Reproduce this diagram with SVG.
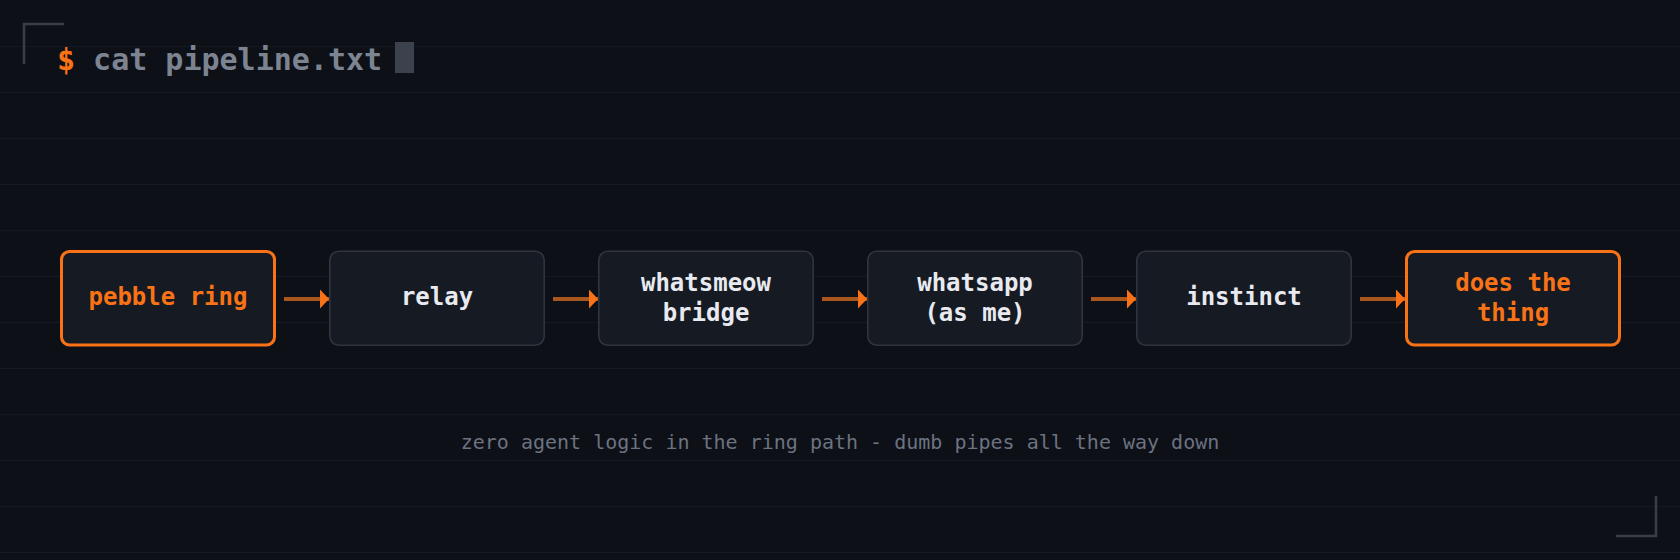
<svg xmlns="http://www.w3.org/2000/svg" width="1680" height="560" viewBox="0 0 1680 560">
  <defs>
    <style>
      .grid line { stroke: #151921; stroke-width: 1; }
      .bracket { fill: none; stroke: #393e49; stroke-width: 2.5; }
      .box { fill: #161a23; stroke: #2f343e; stroke-width: 1.6; }
      .box.hot { stroke: #f97316; stroke-width: 3; }
      .label { font-family: "DejaVu Sans Mono", "Liberation Mono", monospace; font-weight: bold; font-size: 24px; fill: #e8eaf0; text-anchor: middle; }
      .label.hot { fill: #f97316; }
      .edge { stroke: #a9561f; stroke-width: 4; fill: none; }
      .title { font-family: "DejaVu Sans Mono", "Liberation Mono", monospace; font-weight: bold; font-size: 30px; fill: #7d8491; }
      .prompt { fill: #f97316; }
      .caption { font-family: "DejaVu Sans Mono", "Liberation Mono", monospace; font-size: 20px; fill: #6c7280; text-anchor: middle; }
    </style>
    <marker id="arrow" markerWidth="9" markerHeight="19" refX="9" refY="9.5" orient="auto" markerUnits="userSpaceOnUse">
      <path d="M0,0 L9,9.5 L0,19 Z" fill="#f97316"/>
    </marker>
  </defs>

  <rect width="1680" height="560" fill="#0d1017"/>

  <g class="grid">
    <line x1="0" y1="46.5" x2="1680" y2="46.5"/>
    <line x1="0" y1="92.5" x2="1680" y2="92.5"/>
    <line x1="0" y1="138.5" x2="1680" y2="138.5"/>
    <line x1="0" y1="184.5" x2="1680" y2="184.5"/>
    <line x1="0" y1="230.5" x2="1680" y2="230.5"/>
    <line x1="0" y1="276.5" x2="1680" y2="276.5"/>
    <line x1="0" y1="322.5" x2="1680" y2="322.5"/>
    <line x1="0" y1="368.5" x2="1680" y2="368.5"/>
    <line x1="0" y1="414.5" x2="1680" y2="414.5"/>
    <line x1="0" y1="460.5" x2="1680" y2="460.5"/>
    <line x1="0" y1="506.5" x2="1680" y2="506.5"/>
    <line x1="0" y1="552.5" x2="1680" y2="552.5"/>
  </g>

  <path class="bracket" d="M24,64 L24,24 L64,24"/>
  <path class="bracket" d="M1616,536 L1656,536 L1656,496"/>

  <g id="title">
    <text class="title" x="57" y="70"><tspan class="prompt">$</tspan> cat pipeline.txt</text>
    <rect x="395" y="42" width="19" height="31" fill="#3c424d"/>
  </g>

  <g id="connectors">
    <line class="edge" x1="284" y1="299" x2="329" y2="299" marker-end="url(#arrow)"/>
    <line class="edge" x1="553" y1="299" x2="598" y2="299" marker-end="url(#arrow)"/>
    <line class="edge" x1="822" y1="299" x2="867" y2="299" marker-end="url(#arrow)"/>
    <line class="edge" x1="1091" y1="299" x2="1136" y2="299" marker-end="url(#arrow)"/>
    <line class="edge" x1="1360" y1="299" x2="1405" y2="299" marker-end="url(#arrow)"/>
  </g>

  <g id="node-pebble-ring">
    <rect class="box hot" x="61.5" y="251.5" width="213" height="93.5" rx="8"/>
    <text class="label hot" x="168" y="305">pebble ring</text>
  </g>
  <g id="node-relay">
    <rect class="box" x="329.8" y="251.3" width="214.4" height="94" rx="9"/>
    <text class="label" x="437" y="305">relay</text>
  </g>
  <g id="node-whatsmeow-bridge">
    <rect class="box" x="598.8" y="251.3" width="214.4" height="94" rx="9"/>
    <text class="label" x="706" y="291">whatsmeow</text>
    <text class="label" x="706" y="321">bridge</text>
  </g>
  <g id="node-whatsapp">
    <rect class="box" x="867.8" y="251.3" width="214.4" height="94" rx="9"/>
    <text class="label" x="975" y="291">whatsapp</text>
    <text class="label" x="975" y="321">(as me)</text>
  </g>
  <g id="node-instinct">
    <rect class="box" x="1136.8" y="251.3" width="214.4" height="94" rx="9"/>
    <text class="label" x="1244" y="305">instinct</text>
  </g>
  <g id="node-does-the-thing">
    <rect class="box hot" x="1406.5" y="251.5" width="213" height="93.5" rx="8"/>
    <text class="label hot" x="1513" y="291">does the</text>
    <text class="label hot" x="1513" y="321">thing</text>
  </g>

  <text class="caption" x="840" y="449">zero agent logic in the ring path - dumb pipes all the way down</text>
</svg>
